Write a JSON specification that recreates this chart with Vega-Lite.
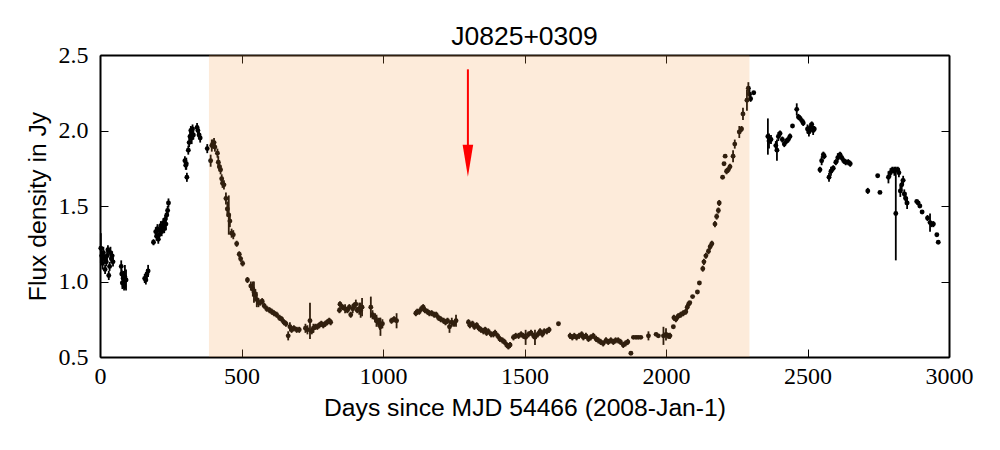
{
  "$schema": "https://vega.github.io/schema/vega-lite/v6.json",
  "width": 849,
  "height": 302,
  "autosize": {"type": "none"},
  "padding": {"left": 100, "top": 55, "right": 51, "bottom": 93},
  "background": "white",
  "config": {"view": {"stroke": null}, "font": "Liberation Sans"},
  "title": {"text": "J0825+0309", "font": "Liberation Sans", "fontSize": 26.5, "fontWeight": "normal", "color": "black", "offset": 8, "dy": 15},
  "datasets": {
    "flux": [
      {"day":3,"flux":1.22,"err":0.10},{"day":6,"flux":1.17,"err":0.05},{"day":9,"flux":1.12,"err":0.04},{"day":12,"flux":1.19,"err":0.04},{"day":15,"flux":1.15,"err":0.03},{"day":18,"flux":1.08,"err":0.03},{"day":22,"flux":1.13,"err":0.03},{"day":25,"flux":1.17,"err":0.05},{"day":28,"flux":1.21,"err":0.03},{"day":31,"flux":1.04,"err":0.03},{"day":34,"flux":1.10,"err":0.03},{"day":37,"flux":1.19,"err":0.04},{"day":40,"flux":1.15,"err":0.03},{"day":43,"flux":1.17,"err":0.03},{"day":46,"flux":1.13,"err":0.03},
      {"day":75,"flux":1.10,"err":0.04},{"day":77,"flux":1.05,"err":0.03},{"day":79,"flux":0.99,"err":0.04},{"day":82,"flux":1.02,"err":0.05},{"day":85,"flux":0.97,"err":0.03},{"day":88,"flux":1.03,"err":0.08},{"day":92,"flux":1.01,"err":0.07},
      {"day":158,"flux":1.02,"err":0.03},{"day":162,"flux":1.01,"err":0.03},{"day":166,"flux":1.05,"err":0.03},{"day":170,"flux":1.07,"err":0.04},
      {"day":189,"flux":1.26,"err":0.02},{"day":197,"flux":1.33,"err":0.03},{"day":200,"flux":1.30,"err":0.03},{"day":203,"flux":1.35,"err":0.03},{"day":206,"flux":1.28,"err":0.03},{"day":209,"flux":1.31,"err":0.03},{"day":212,"flux":1.34,"err":0.02},{"day":215,"flux":1.37,"err":0.03},{"day":218,"flux":1.33,"err":0.03},{"day":221,"flux":1.36,"err":0.02},{"day":224,"flux":1.39,"err":0.03},{"day":227,"flux":1.35,"err":0.03},{"day":230,"flux":1.41,"err":0.03},{"day":233,"flux":1.38,"err":0.04},{"day":236,"flux":1.44,"err":0.03},{"day":239,"flux":1.47,"err":0.03},{"day":242,"flux":1.52,"err":0.03},
      {"day":300,"flux":1.80,"err":0.03},{"day":303,"flux":1.77,"err":0.03},{"day":305,"flux":1.78,"err":0.04},{"day":307,"flux":1.69,"err":0.03},{"day":312,"flux":1.87,"err":0.03},{"day":315,"flux":1.92,"err":0.03},{"day":318,"flux":1.96,"err":0.03},{"day":321,"flux":2.00,"err":0.03},{"day":324,"flux":1.95,"err":0.04},{"day":327,"flux":2.01,"err":0.03},{"day":330,"flux":1.97,"err":0.03},{"day":343,"flux":2.02,"err":0.03},{"day":346,"flux":2.00,"err":0.03},{"day":350,"flux":1.97,"err":0.02},{"day":354,"flux":1.95,"err":0.03},
      {"day":379,"flux":1.88,"err":0.03},{"day":391,"flux":1.80,"err":0.04},{"day":395,"flux":1.90,"err":0.04},{"day":398,"flux":1.91,"err":0.03},{"day":403,"flux":1.92,"err":0.03},{"day":406,"flux":1.89,"err":0.03},{"day":415,"flux":1.85,"err":0.03},{"day":418,"flux":1.79,"err":0.04},{"day":422,"flux":1.76,"err":0.03},{"day":426,"flux":1.74,"err":0.03},{"day":430,"flux":1.68,"err":0.03},{"day":433,"flux":1.65,"err":0.03},{"day":438,"flux":1.64,"err":0.03},{"day":445,"flux":1.55,"err":0.04},{"day":450,"flux":1.48,"err":0.05},{"day":455,"flux":1.44,"err":0.13},{"day":459,"flux":1.40,"err":0.04},{"day":465,"flux":1.32,"err":0.03},{"day":471,"flux":1.31,"err":0.03},{"day":483,"flux":1.25,"err":0.02},{"day":492,"flux":1.18,"err":0.02},{"day":497,"flux":1.15,"err":0.02},{"day":504,"flux":1.12,"err":0.02},{"day":521,"flux":1.01,"err":0.02},{"day":533,"flux":0.97,"err":0.03},{"day":540,"flux":0.95,"err":0.05},{"day":544,"flux":0.93,"err":0.07},{"day":549,"flux":0.91,"err":0.04},{"day":554,"flux":0.88,"err":0.05},{"day":560,"flux":0.86,"err":0.03},{"day":566,"flux":0.86,"err":0.02},{"day":573,"flux":0.87,"err":0.02},{"day":580,"flux":0.84,"err":0.02},{"day":589,"flux":0.82,"err":0.02},{"day":599,"flux":0.81,"err":0.02},{"day":607,"flux":0.80,"err":0.02},{"day":615,"flux":0.79,"err":0.02},{"day":624,"flux":0.78,"err":0.02},{"day":634,"flux":0.76,"err":0.02},{"day":642,"flux":0.75,"err":0.02},{"day":650,"flux":0.73,"err":0.02},{"day":657,"flux":0.72,"err":0.02},{"day":665,"flux":0.64,"err":0.03},{"day":671,"flux":0.70,"err":0.03},{"day":677,"flux":0.68,"err":0.02},{"day":685,"flux":0.69,"err":0.02},{"day":695,"flux":0.68,"err":0.02},{"day":704,"flux":0.68,"err":0.02},{"day":726,"flux":0.69,"err":0.03},{"day":733,"flux":0.68,"err":0.03},{"day":742,"flux":0.74,"err":0.12},{"day":748,"flux":0.67,"err":0.02},{"day":754,"flux":0.69,"err":0.03},{"day":761,"flux":0.70,"err":0.02},{"day":768,"flux":0.70,"err":0.02},{"day":775,"flux":0.71,"err":0.02},{"day":782,"flux":0.72,"err":0.02},{"day":789,"flux":0.71,"err":0.02},{"day":796,"flux":0.72,"err":0.02},{"day":803,"flux":0.73,"err":0.02},{"day":810,"flux":0.74,"err":0.02},{"day":815,"flux":0.73,"err":0.02},
      {"day":846,"flux":0.81,"err":0.02},{"day":848,"flux":0.85,"err":0.02},{"day":857,"flux":0.83,"err":0.02},{"day":866,"flux":0.82,"err":0.03},{"day":874,"flux":0.81,"err":0.02},{"day":881,"flux":0.83,"err":0.02},{"day":886,"flux":0.78,"err":0.02},{"day":893,"flux":0.82,"err":0.03},{"day":897,"flux":0.84,"err":0.02},{"day":904,"flux":0.85,"err":0.03},{"day":909,"flux":0.81,"err":0.02},{"day":916,"flux":0.82,"err":0.04},{"day":921,"flux":0.81,"err":0.05},{"day":926,"flux":0.83,"err":0.06},{"day":957,"flux":0.83,"err":0.07},{"day":963,"flux":0.78,"err":0.03},{"day":972,"flux":0.76,"err":0.03},{"day":977,"flux":0.74,"err":0.04},{"day":983,"flux":0.73,"err":0.03},{"day":989,"flux":0.72,"err":0.04},{"day":991,"flux":0.70,"err":0.06},{"day":998,"flux":0.72,"err":0.03},{"day":1030,"flux":0.74,"err":0.02},{"day":1039,"flux":0.75,"err":0.02},{"day":1048,"flux":0.74,"err":0.05},
      {"day":1116,"flux":0.79,"err":0.02},{"day":1121,"flux":0.80,"err":0.02},{"day":1128,"flux":0.80,"err":0.02},{"day":1136,"flux":0.82,"err":0.02},{"day":1142,"flux":0.83,"err":0.02},{"day":1148,"flux":0.81,"err":0.02},{"day":1157,"flux":0.80,"err":0.02},{"day":1164,"flux":0.79,"err":0.02},{"day":1172,"flux":0.79,"err":0.02},{"day":1181,"flux":0.78,"err":0.02},{"day":1188,"flux":0.78,"err":0.02},{"day":1196,"flux":0.76,"err":0.02},{"day":1204,"flux":0.75,"err":0.02},{"day":1214,"flux":0.74,"err":0.02},{"day":1221,"flux":0.73,"err":0.02},{"day":1228,"flux":0.74,"err":0.02},{"day":1235,"flux":0.70,"err":0.04},{"day":1243,"flux":0.73,"err":0.03},{"day":1251,"flux":0.72,"err":0.02},{"day":1258,"flux":0.74,"err":0.04},
      {"day":1302,"flux":0.73,"err":0.02},{"day":1307,"flux":0.71,"err":0.02},{"day":1316,"flux":0.72,"err":0.02},{"day":1323,"flux":0.70,"err":0.02},{"day":1331,"flux":0.71,"err":0.02},{"day":1339,"flux":0.69,"err":0.02},{"day":1346,"flux":0.68,"err":0.02},{"day":1355,"flux":0.67,"err":0.02},{"day":1361,"flux":0.68,"err":0.02},{"day":1366,"flux":0.66,"err":0.02},{"day":1372,"flux":0.67,"err":0.02},{"day":1382,"flux":0.65,"err":0.02},{"day":1390,"flux":0.65,"err":0.02},{"day":1396,"flux":0.66,"err":0.02},{"day":1405,"flux":0.64,"err":0.02},{"day":1413,"flux":0.62,"err":0.02},{"day":1422,"flux":0.61,"err":0.02},{"day":1429,"flux":0.60,"err":0.02},{"day":1437,"flux":0.58,"err":0.02},{"day":1443,"flux":0.57,"err":0.02},{"day":1449,"flux":0.58,"err":0.02},{"day":1461,"flux":0.63,"err":0.02},{"day":1469,"flux":0.64,"err":0.02},{"day":1479,"flux":0.64,"err":0.02},{"day":1488,"flux":0.65,"err":0.02},{"day":1496,"flux":0.64,"err":0.02},{"day":1504,"flux":0.63,"err":0.05},{"day":1514,"flux":0.65,"err":0.02},{"day":1523,"flux":0.66,"err":0.02},{"day":1532,"flux":0.64,"err":0.02},{"day":1537,"flux":0.63,"err":0.05},{"day":1547,"flux":0.65,"err":0.02},{"day":1555,"flux":0.67,"err":0.02},{"day":1563,"flux":0.65,"err":0.02},{"day":1570,"flux":0.67,"err":0.02},{"day":1579,"flux":0.67,"err":0.02},{"day":1587,"flux":0.68,"err":0.02},{"day":1620,"flux":0.72,"err":0.01},
      {"day":1661,"flux":0.64,"err":0.02},{"day":1669,"flux":0.63,"err":0.02},{"day":1676,"flux":0.64,"err":0.02},{"day":1684,"flux":0.63,"err":0.02},{"day":1693,"flux":0.64,"err":0.02},{"day":1702,"flux":0.65,"err":0.02},{"day":1708,"flux":0.63,"err":0.02},{"day":1717,"flux":0.64,"err":0.02},{"day":1726,"flux":0.62,"err":0.02},{"day":1734,"flux":0.63,"err":0.02},{"day":1743,"flux":0.64,"err":0.02},{"day":1753,"flux":0.62,"err":0.02},{"day":1761,"flux":0.61,"err":0.02},{"day":1769,"flux":0.60,"err":0.02},{"day":1778,"flux":0.59,"err":0.02},{"day":1788,"flux":0.61,"err":0.02},{"day":1796,"flux":0.60,"err":0.02},{"day":1805,"flux":0.61,"err":0.02},{"day":1814,"flux":0.60,"err":0.02},{"day":1822,"flux":0.61,"err":0.02},{"day":1831,"flux":0.61,"err":0.02},{"day":1839,"flux":0.60,"err":0.02},{"day":1849,"flux":0.58,"err":0.02},{"day":1857,"flux":0.59,"err":0.02},{"day":1865,"flux":0.60,"err":0.02},{"day":1876,"flux":0.525,"err":0.005},{"day":1885,"flux":0.63,"err":0.01},{"day":1894,"flux":0.63,"err":0.01},{"day":1902,"flux":0.63,"err":0.01},{"day":1911,"flux":0.63,"err":0.01},{"day":1938,"flux":0.64,"err":0.03},{"day":1965,"flux":0.65,"err":0.01},{"day":1973,"flux":0.64,"err":0.01},{"day":1991,"flux":0.64,"err":0.06},{"day":2000,"flux":0.65,"err":0.04},{"day":2008,"flux":0.64,"err":0.02},{"day":2014,"flux":0.64,"err":0.02},
      {"day":2026,"flux":0.70,"err":0.01},{"day":2028,"flux":0.76,"err":0.02},{"day":2035,"flux":0.75,"err":0.02},{"day":2043,"flux":0.77,"err":0.02},{"day":2052,"flux":0.78,"err":0.02},{"day":2061,"flux":0.79,"err":0.02},{"day":2070,"flux":0.80,"err":0.02},{"day":2075,"flux":0.83,"err":0.02},{"day":2080,"flux":0.85,"err":0.02},{"day":2084,"flux":0.86,"err":0.01},{"day":2094,"flux":0.90,"err":0.01},{"day":2111,"flux":0.93,"err":0.01},{"day":2118,"flux":0.99,"err":0.01},{"day":2130,"flux":1.085,"err":0.02},{"day":2134,"flux":1.13,"err":0.02},{"day":2141,"flux":1.17,"err":0.02},{"day":2150,"flux":1.20,"err":0.02},{"day":2156,"flux":1.23,"err":0.02},{"day":2162,"flux":1.25,"err":0.02},{"day":2173,"flux":1.38,"err":0.02},{"day":2179,"flux":1.43,"err":0.02},{"day":2185,"flux":1.47,"err":0.02},{"day":2188,"flux":1.52,"err":0.02},{"day":2200,"flux":1.69,"err":0.01},{"day":2205,"flux":1.78,"err":0.01},{"day":2209,"flux":1.83,"err":0.01},{"day":2214,"flux":1.73,"err":0.02},{"day":2220,"flux":1.74,"err":0.02},{"day":2226,"flux":1.76,"err":0.02},{"day":2237,"flux":1.83,"err":0.04},{"day":2243,"flux":1.91,"err":0.03},{"day":2259,"flux":1.99,"err":0.04},{"day":2267,"flux":2.01,"err":0.02},{"day":2272,"flux":2.11,"err":0.04},{"day":2286,"flux":2.20,"err":0.07},{"day":2291,"flux":2.28,"err":0.04},{"day":2295,"flux":2.24,"err":0.03},{"day":2299,"flux":2.21,"err":0.02},{"day":2310,"flux":2.25,"err":0.01},
      {"day":2360,"flux":1.96,"err":0.12},{"day":2364,"flux":1.93,"err":0.05},{"day":2371,"flux":1.94,"err":0.03},{"day":2388,"flux":1.90,"err":0.03},{"day":2392,"flux":1.87,"err":0.07},{"day":2397,"flux":1.96,"err":0.03},{"day":2403,"flux":1.98,"err":0.02},{"day":2411,"flux":1.94,"err":0.02},{"day":2418,"flux":1.91,"err":0.02},{"day":2426,"flux":1.93,"err":0.02},{"day":2432,"flux":1.94,"err":0.02},{"day":2438,"flux":1.96,"err":0.02},{"day":2447,"flux":2.03,"err":0.01},{"day":2462,"flux":2.14,"err":0.04},{"day":2468,"flux":2.09,"err":0.02},{"day":2474,"flux":2.08,"err":0.02},{"day":2482,"flux":2.06,"err":0.02},{"day":2485,"flux":2.05,"err":0.02},{"day":2500,"flux":2.01,"err":0.03},{"day":2505,"flux":1.99,"err":0.03},{"day":2510,"flux":2.02,"err":0.03},{"day":2515,"flux":2.04,"err":0.02},{"day":2520,"flux":2.00,"err":0.03},{"day":2524,"flux":2.01,"err":0.02},{"day":2544,"flux":1.74,"err":0.02},{"day":2550,"flux":1.80,"err":0.03},{"day":2556,"flux":1.84,"err":0.02},{"day":2559,"flux":1.83,"err":0.02},{"day":2576,"flux":1.69,"err":0.03},{"day":2583,"flux":1.73,"err":0.03},{"day":2591,"flux":1.75,"err":0.02},{"day":2600,"flux":1.79,"err":0.02},{"day":2607,"flux":1.82,"err":0.03},{"day":2615,"flux":1.84,"err":0.02},{"day":2621,"flux":1.82,"err":0.02},{"day":2628,"flux":1.80,"err":0.02},{"day":2635,"flux":1.79,"err":0.02},{"day":2644,"flux":1.79,"err":0.02},{"day":2651,"flux":1.78,"err":0.02},
      {"day":2713,"flux":1.60,"err":0.02},{"day":2748,"flux":1.70,"err":0.01},{"day":2756,"flux":1.59,"err":0.01},{"day":2786,"flux":1.69,"err":0.04},{"day":2793,"flux":1.72,"err":0.03},{"day":2800,"flux":1.74,"err":0.02},{"day":2807,"flux":1.73,"err":0.03},{"day":2812,"flux":1.45,"err":0.31},{"day":2819,"flux":1.74,"err":0.02},{"day":2823,"flux":1.72,"err":0.03},{"day":2828,"flux":1.60,"err":0.04},{"day":2833,"flux":1.64,"err":0.04},{"day":2838,"flux":1.67,"err":0.03},{"day":2842,"flux":1.58,"err":0.03},{"day":2847,"flux":1.55,"err":0.04},{"day":2852,"flux":1.52,"err":0.04},{"day":2886,"flux":1.53,"err":0.01},{"day":2891,"flux":1.52,"err":0.01},{"day":2897,"flux":1.50,"err":0.01},{"day":2905,"flux":1.46,"err":0.01},{"day":2924,"flux":1.42,"err":0.02},{"day":2933,"flux":1.39,"err":0.06},{"day":2939,"flux":1.38,"err":0.02},{"day":2945,"flux":1.38,"err":0.02},{"day":2957,"flux":1.31,"err":0.01},{"day":2962,"flux":1.26,"err":0.01}
    ],
    "band": [{"start": 385, "end": 2295}],
    "marker": [{"day": 1300, "top": 2.405, "base": 1.9, "tip": 1.693}]
  },
  "layer": [
    {
      "data": {"name": "flux"},
      "mark": {"type": "errorbar", "thickness": 1.8, "color": "black"},
      "encoding": {
        "x": {
          "field": "day", "type": "quantitative",
          "scale": {"domain": [0, 3000], "nice": false, "zero": false},
          "axis": {
            "orient": "bottom", "values": [0, 500, 1000, 1500, 2000, 2500, 3000], "format": "d",
            "title": "Days since MJD 54466 (2008-Jan-1)", "titleFont": "Liberation Sans", "titleFontSize": 24.7, "titleFontWeight": "normal", "titleColor": "black", "titlePadding": 7,
            "labelFont": "Liberation Serif", "labelFontSize": 24, "labelColor": "black", "labelPadding": 15, "labelFlush": false, "labelOverlap": false,
            "tickSize": -8, "tickColor": "black", "tickWidth": 1, "domainColor": "black", "domainWidth": 2, "grid": false
          }
        },
        "y": {
          "field": "flux", "type": "quantitative",
          "scale": {"domain": [0.5, 2.5], "nice": false, "zero": false},
          "axis": {
            "orient": "left", "values": [0.5, 1.0, 1.5, 2.0, 2.5], "format": ".1f",
            "title": "Flux density in Jy", "titleFont": "Liberation Sans", "titleFontSize": 24.7, "titleFontWeight": "normal", "titleColor": "black", "titlePadding": 8,
            "labelFont": "Liberation Serif", "labelFontSize": 24, "labelColor": "black", "labelPadding": 20, "labelFlush": false, "labelOverlap": false,
            "tickSize": -8, "tickColor": "black", "tickWidth": 1, "domainColor": "black", "domainWidth": 2, "grid": false
          }
        },
        "yError": {"field": "err"}
      }
    },
    {
      "data": {"name": "flux"},
      "mark": {"type": "circle", "size": 24, "color": "black", "opacity": 1},
      "encoding": {
        "x": {
          "field": "day", "type": "quantitative",
          "axis": {"orient": "top", "values": [0, 500, 1000, 1500, 2000, 2500, 3000], "labels": false, "title": null, "tickSize": -8, "tickColor": "black", "tickWidth": 1, "domainColor": "black", "domainWidth": 2, "grid": false}
        },
        "y": {
          "field": "flux", "type": "quantitative",
          "axis": {"orient": "right", "values": [0.5, 1.0, 1.5, 2.0, 2.5], "labels": false, "title": null, "tickSize": -8, "tickColor": "black", "tickWidth": 1, "domainColor": "black", "domainWidth": 2, "grid": false}
        }
      }
    },
    {
      "data": {"name": "band"},
      "mark": {"type": "rect", "color": "#f59b46", "opacity": 0.2},
      "encoding": {
        "x": {"field": "start", "type": "quantitative", "axis": null},
        "x2": {"field": "end"}
      }
    },
    {
      "data": {"name": "marker"},
      "mark": {"type": "rule", "color": "#ff0000", "strokeWidth": 2},
      "encoding": {
        "x": {"field": "day", "type": "quantitative", "axis": null},
        "y": {"field": "top", "type": "quantitative", "axis": null},
        "y2": {"field": "base"}
      }
    },
    {
      "data": {"name": "marker"},
      "mark": {"type": "point", "shape": "M-0.33,-2L0.33,-2L0,0Z", "size": 1024, "filled": true, "color": "#ff0000", "opacity": 1},
      "encoding": {
        "x": {"field": "day", "type": "quantitative", "axis": null},
        "y": {"field": "tip", "type": "quantitative", "axis": null}
      }
    }
  ],
  "resolve": {"axis": {"x": "independent", "y": "independent"}}
}
